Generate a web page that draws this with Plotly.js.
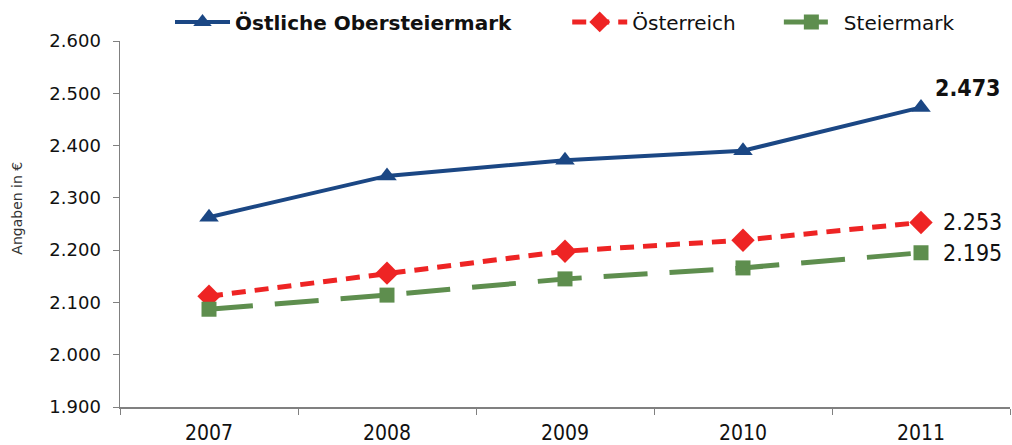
<!DOCTYPE html>
<html>
<head>
<meta charset="utf-8">
<script src="https://cdn.plot.ly/plotly-3.0.1.min.js"></script>
<style>html,body{margin:0;padding:0;background:#fff;}#chart{width:1012px;height:445px;}</style>
</head>
<body>
<div id="chart"></div>
<script>
const years = ["2007", "2008", "2009", "2010", "2011"];
const oestlicheObersteiermark = [2263, 2342, 2372, 2390, 2473];
const oesterreich = [2112, 2156, 2198, 2219, 2253];
const steiermark = [2087, 2114, 2145, 2166, 2195];
const seriesNames = ["Östliche Obersteiermark", "Österreich", "Steiermark"];
const yTitle = "Angaben in €";

function fmt(v) {
  const s = String(Math.round(v));
  return s.replace(/\B(?=(\d{3})+(?!\d))/g, ".");
}
const pad = n => "&nbsp;".repeat(n);

const traces = [
  {
    x: years, y: oestlicheObersteiermark, name: "<b>" + seriesNames[0] + "</b>" + pad(8),
    type: "scatter", mode: "lines+markers",
    line: {color: "#1B4784", width: 4},
    marker: {symbol: "triangle-up", size: 17, color: "#1B4784"}
  },
  {
    x: years, y: oesterreich, name: seriesNames[1] + pad(6), type: "scatter", mode: "lines+markers",
    line: {color: "#EE2424", width: 5, dash: "14px,9px"},
    marker: {symbol: "diamond", size: 18, color: "#EE2424"}
  },
  {
    x: years, y: steiermark, name: seriesNames[2], type: "scatter", mode: "lines+markers",
    line: {color: "#5E8E4E", width: 5, dash: "44px,22px"},
    marker: {symbol: "square", size: 15, color: "#5E8E4E"}
  }
];

const last = years.length - 1;
const valFont = {family: "DejaVu Sans Condensed", size: 23, color: "#111"};
const annotations = [
  {x: last, y: oestlicheObersteiermark[last], text: "<b>" + fmt(oestlicheObersteiermark[last]) + "</b>",
   xanchor: "left", yanchor: "middle", xshift: 12, yshift: 19, showarrow: false, font: valFont},
  {x: last, y: oesterreich[last], text: fmt(oesterreich[last]),
   xanchor: "left", yanchor: "middle", xshift: 20, yshift: 0, showarrow: false, font: valFont},
  {x: last, y: steiermark[last], text: fmt(steiermark[last]),
   xanchor: "left", yanchor: "middle", xshift: 20, yshift: 0, showarrow: false, font: valFont},
  {xref: "paper", yref: "paper", x: -0.116, y: 0.544, text: yTitle, textangle: -90,
   xanchor: "center", yanchor: "middle", showarrow: false,
   font: {family: "DejaVu Sans", size: 14, color: "#333"}}
];

const layout = {
  width: 1012, height: 445,
  margin: {l: 120, r: 2, t: 41, b: 38},
  paper_bgcolor: "#fff", plot_bgcolor: "#fff",
  font: {family: "DejaVu Sans", color: "#111"},
  separators: ",.",
  showlegend: true,
  legend: {orientation: "h", x: 0.5, xanchor: "center", y: 1.052, yanchor: "middle",
           itemwidth: 55,
           font: {family: "DejaVu Sans", size: 20, color: "#111"}, bgcolor: "rgba(0,0,0,0)"},
  xaxis: {
    type: "category", showgrid: false, zeroline: false,
    showline: true, linecolor: "#808080", linewidth: 1.5,
    ticks: "outside", tickson: "boundaries", ticklen: 6, tickcolor: "#808080",
    ticklabelstandoff: 6,
    tickfont: {family: "DejaVu Sans Condensed", size: 21, color: "#111"},
    range: [-0.5, 4.5]
  },
  yaxis: {
    range: [1900, 2600], dtick: 100, tick0: 1900, tickformat: ",d",
    showgrid: false, zeroline: false,
    showline: true, linecolor: "#808080", linewidth: 1.5,
    ticks: "outside", ticklen: 6, tickcolor: "#808080",
    ticklabelstandoff: 8,
    tickfont: {family: "DejaVu Sans", size: 18, color: "#111"}
  },
  annotations: annotations
};

Plotly.newPlot("chart", traces, layout, {displayModeBar: false, staticPlot: true});
</script>
</body>
</html>
